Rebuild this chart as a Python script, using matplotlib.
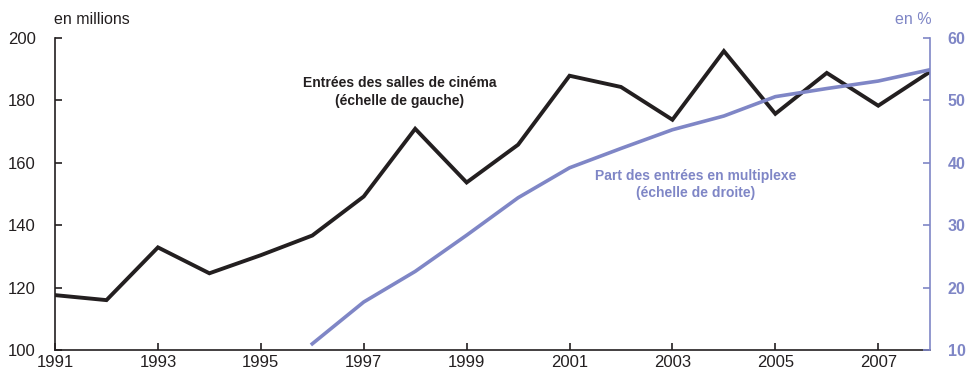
import matplotlib.pyplot as plt

plt.rcParams['font.family'] = ['Liberation Sans', 'DejaVu Sans']

# cinema admissions (millions) and multiplex share (%)
years = list(range(1991, 2009))
entrees = [117.6, 116.0, 132.9, 124.6, 130.4, 136.7, 149.2, 170.9, 153.7,
           165.8, 187.9, 184.3, 173.8, 195.8, 175.7, 188.8, 178.3, 189.1]
years_mp = list(range(1996, 2009))
multiplexe = [11.0, 17.7, 22.6, 28.4, 34.4, 39.2, 42.3, 45.3, 47.5,
              50.6, 51.9, 53.1, 54.9]
xticks = [1991, 1993, 1995, 1997, 1999, 2001, 2003, 2005, 2007]

black = '#231f20'
blue = '#7f86c6'

fig = plt.figure(figsize=(9.74, 3.76), dpi=100)
ax = fig.add_axes([0.0565, 0.069, 0.898, 0.830])
ax2 = ax.twinx()

ax.plot(years, entrees, color=black, lw=2.8, solid_joinstyle='miter', zorder=3)
ax2.plot(years_mp, multiplexe, color=blue, lw=2.6, zorder=2)

ax.set_xlim(1991, 2008)
ax.set_ylim(100, 200)
ax.set_yticks([100, 120, 140, 160, 180, 200])
ax2.set_ylim(10, 60)
ax2.set_yticks([10, 20, 30, 40, 50, 60])
ax.set_xticks(xticks)

for a in (ax, ax2):
    a.spines['top'].set_visible(False)
ax.spines['right'].set_visible(False)
ax.spines['left'].set_color(black)
ax.spines['bottom'].set_color(black)
ax2.spines['left'].set_visible(False)
ax2.spines['bottom'].set_visible(False)
ax2.spines['right'].set_color(blue)
for s in ('left', 'bottom', 'right'):
    ax.spines[s].set_linewidth(1.2)
    ax2.spines[s].set_linewidth(1.2)

ax.tick_params(axis='y', direction='in', length=5, width=1.2,
               colors=black, labelsize=12, pad=14)
ax.tick_params(axis='x', direction='in', length=5, width=1.2,
               colors=black, labelsize=12, pad=3.5)
ax2.tick_params(axis='y', direction='in', length=5, width=1.2,
                colors=blue, labelsize=11.5, pad=13)
for lbl in ax2.get_yticklabels():
    lbl.set_fontweight('bold')

fig.text(0.0555, 0.949, 'en millions', fontsize=11.5, color=black,
         ha='left', va='center')
fig.text(0.957, 0.949, 'en %', fontsize=11.5, color=blue,
         ha='right', va='center')

ax.text(1997.7, 182.7, 'Entrées des salles de cinéma\n(échelle de gauche)',
        fontsize=10, fontweight='bold', color=black, ha='center',
        va='center', linespacing=1.3)
ax2.text(2003.45, 36.5, 'Part des entrées en multiplexe\n(échelle de droite)',
         fontsize=10, fontweight='bold', color=blue, ha='center',
         va='center', linespacing=1.3)

fig.savefig('out.png', dpi=100)
